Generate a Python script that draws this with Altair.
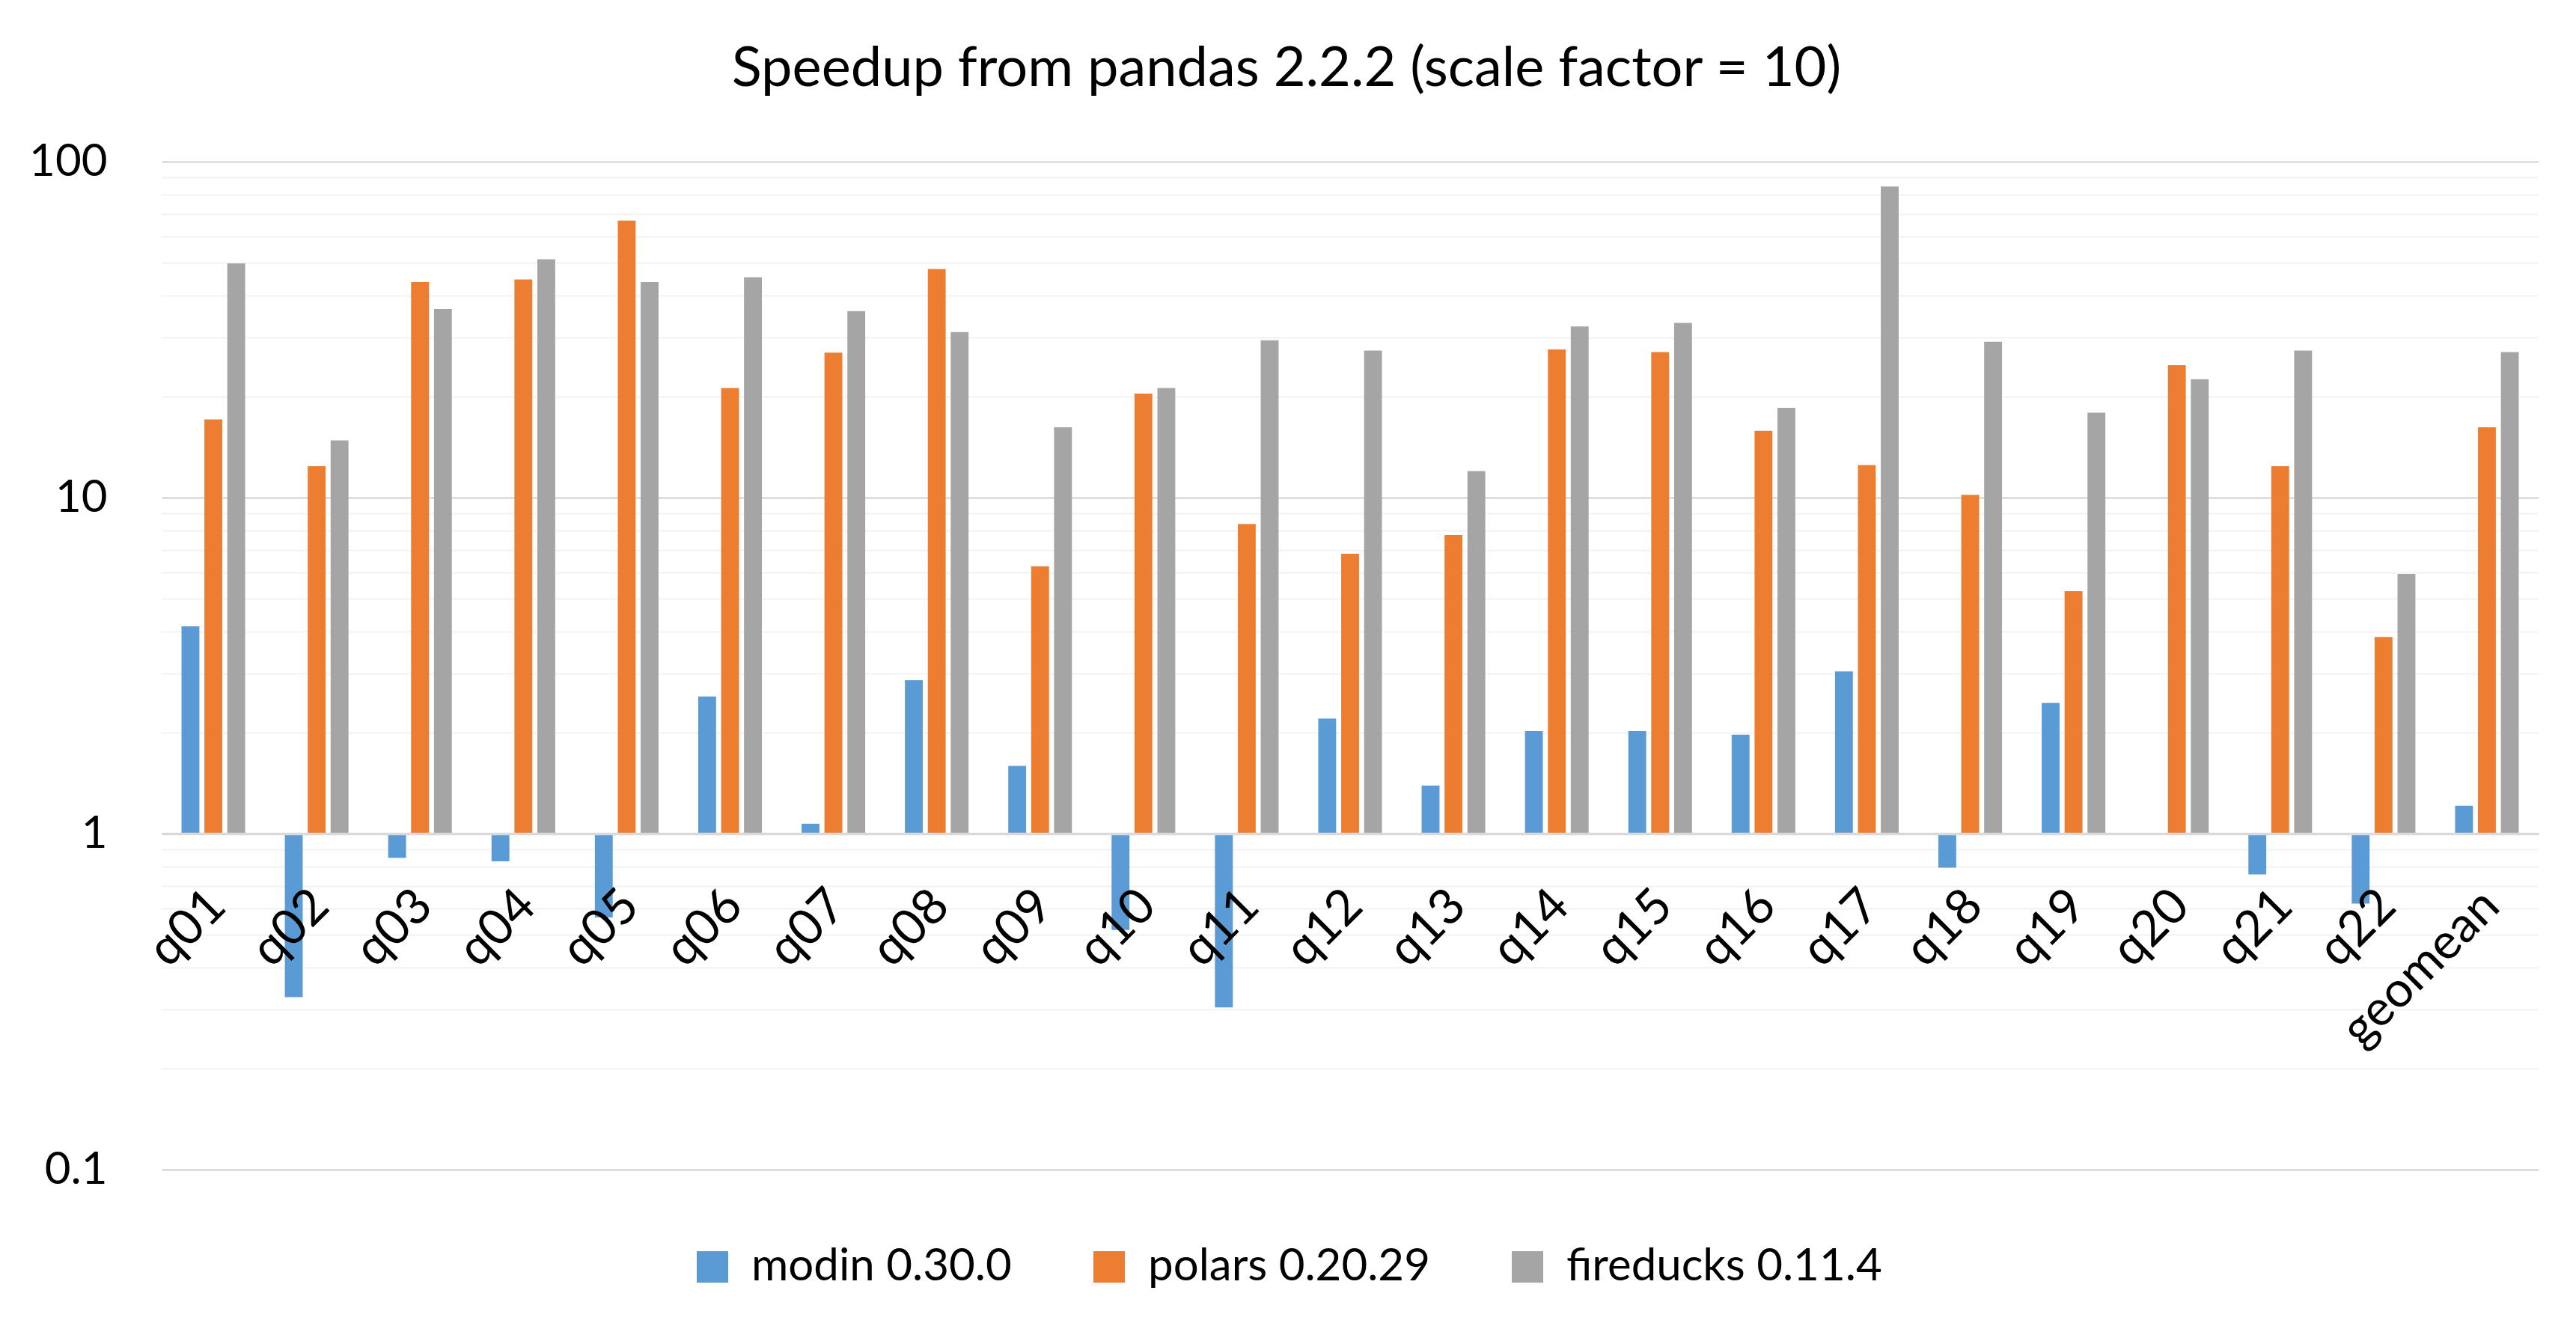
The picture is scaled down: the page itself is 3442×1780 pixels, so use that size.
import altair as alt
import pandas as pd

queries = ["q01", "q02", "q03", "q04", "q05", "q06", "q07", "q08", "q09", "q10", "q11",
           "q12", "q13", "q14", "q15", "q16", "q17", "q18", "q19", "q20", "q21", "q22", "geomean"]
series_names = ["modin 0.30.0", "polars 0.20.29", "fireducks 0.11.4"]
series_colors = ["#5B9BD5", "#ED7D31", "#A5A5A5"]

modin = [4.14, 0.326, 0.847, 0.827, 0.563, 2.56, 1.07, 2.86, 1.59, 0.517, 0.304, 2.20,
         1.39, 2.02, 2.02, 1.97, 3.04, 0.792, 2.45, 0.99, 0.756, 0.619, 1.21]
polars = [17.1, 12.4, 43.8, 44.6, 66.8, 21.2, 27.0, 47.9, 6.25, 20.4, 8.35, 6.81,
          7.74, 27.6, 27.1, 15.8, 12.5, 10.2, 5.27, 24.8, 12.4, 3.85, 16.2]
fireducks = [49.8, 14.8, 36.4, 51.2, 43.8, 45.3, 35.9, 31.1, 16.2, 21.2, 29.4, 27.4,
             12.0, 32.3, 33.1, 18.5, 84.3, 29.1, 17.9, 22.5, 27.4, 5.93, 27.1]

y_ticks = [0.1, 0.2, 0.3, 0.4, 0.5, 0.6, 0.7, 0.8, 0.9,
           1, 2, 3, 4, 5, 6, 7, 8, 9,
           10, 20, 30, 40, 50, 60, 70, 80, 90, 100]
major_test = "indexof([0.1, 1, 10, 100], datum.value) >= 0"

rows = []
for name, vals in zip(series_names, [modin, polars, fireducks]):
    for q, v in zip(queries, vals):
        rows.append({"query": q, "series": name, "speedup": v})
df = pd.DataFrame(rows)

W, H = 3176, 1347

chart = alt.Chart(df).mark_bar().encode(
    x=alt.X(
        "query:N", sort=queries, title=None,
        scale=alt.Scale(paddingInner=0.384, paddingOuter=0.192),
        axis=alt.Axis(
            labelAngle=315, labelAlign="right", labelBaseline="alphabetic",
            labelPadding=100, labelOffset=20, labelFontSize=66, labelFont="Lato",
            labelColor="#000000", labelLimit=1000,
            ticks=False, grid=False, domainColor="#d9d9d9", domainWidth=3.5,
            offset=-H / 3, zindex=1, labelOverlap=False,
        ),
    ),
    xOffset=alt.XOffset(
        "series:N", sort=series_names,
        scale=alt.Scale(paddingInner=0.22, paddingOuter=0),
    ),
    y=alt.Y(
        "speedup:Q", title=None,
        scale=alt.Scale(type="log", domain=[0.1, 100], nice=False),
        axis=alt.Axis(
            values=y_ticks,
            labelExpr=major_test + " ? format(datum.value, '~g') : ''",
            labelFontSize=60, labelFont="Lato", labelColor="#000000",
            labelPadding=73, ticks=False, domain=False, labelOverlap=False,
            gridColor={"condition": {"test": major_test, "value": "#d9d9d9"}, "value": "#f2f2f2"},
            gridWidth={"condition": {"test": major_test, "value": 2.5}, "value": 2},
        ),
    ),
    y2=alt.datum(1),
    color=alt.Color(
        "series:N", sort=series_names,
        scale=alt.Scale(domain=series_names, range=series_colors),
        legend=alt.Legend(
            title=None, orient="none", direction="horizontal",
            legendX=706, legendY=1447,
            symbolType="square", symbolSize=1764, symbolStrokeWidth=0, symbolOpacity=1,
            labelFont="Lato", labelFontSize=60, labelColor="#000000",
            labelOffset=22, columnPadding=100, padding=0, labelLimit=1000,
        ),
    ),
).properties(
    width=W, height=H,
    autosize=alt.AutoSizeParams(type="none"),
    padding={"left": 208, "top": 208, "right": 30, "bottom": 200},
    title=alt.TitleParams(
        text="Speedup from pandas 2.2.2 (scale factor = 10)",
        fontSize=74, font="Lato", fontWeight="normal", color="#000000",
        anchor="middle", offset=55, dx=-85,
    ),
).configure_view(stroke=None)

chart.save("out.html", embed_options={"renderer": "svg", "actions": False})
